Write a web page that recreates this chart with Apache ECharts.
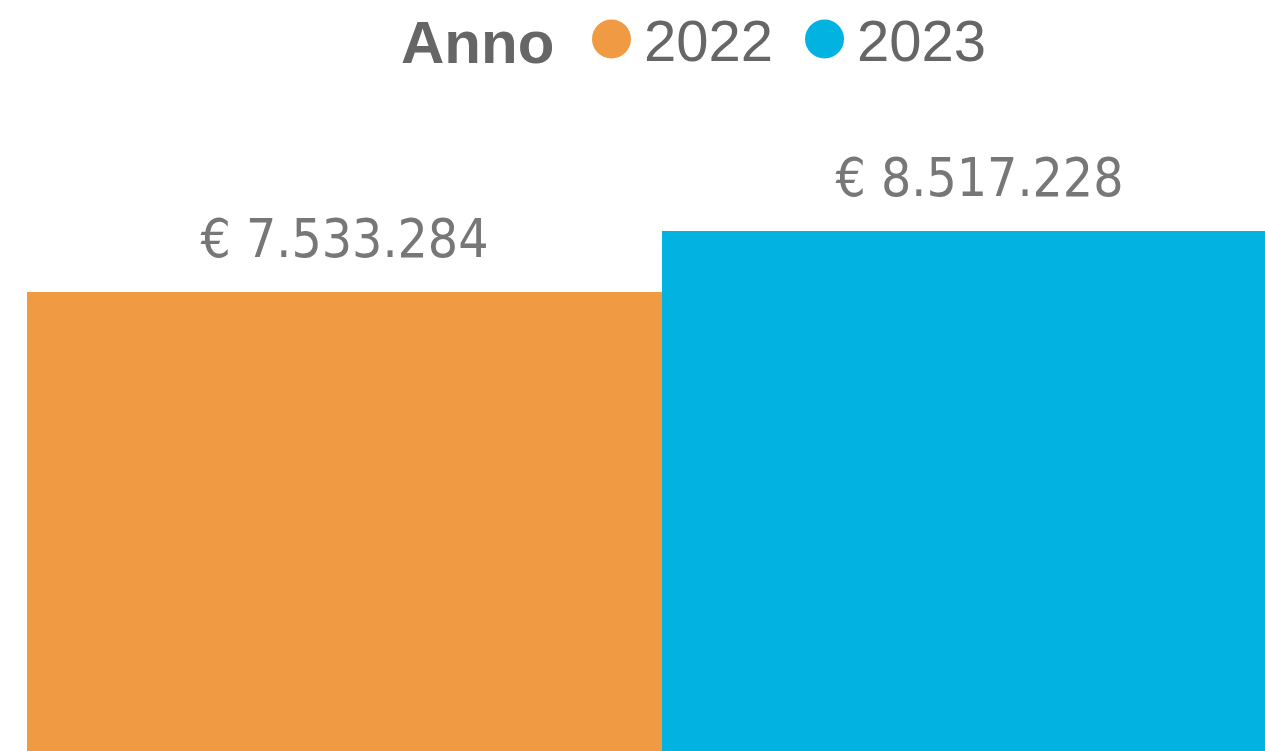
<!DOCTYPE html>
<html><head><meta charset="utf-8">
<script src="https://cdn.jsdelivr.net/npm/echarts@6/dist/echarts.min.js"></script>
<style>html,body{margin:0;padding:0;background:#fff}#c{width:1265px;height:751px}</style>
</head><body><div id="c"></div>
<script>
const categories = ['Totale'];
const years = ['2022', '2023'];
const values2022 = [7533284];
const values2023 = [8517228];
const colors = ['#F09B43', '#02B2E1'];

function fmt(v) {
  return '€ ' + String(v).replace(/\B(?=(\d{3})+(?!\d))/g, '.');
}
const labelStyle = {
  show: true, position: 'top', distance: 22,
  formatter: p => fmt(p.value),
  color: '#777777', fontFamily: 'DejaVu Sans Condensed', fontSize: 53
};
const chart = echarts.init(document.getElementById('c'), null, {renderer: 'canvas'});
chart.setOption({
  animation: false,
  title: {
    text: 'Anno', left: 396, top: 11,
    textStyle: {fontFamily: 'Liberation Sans', fontWeight: 'bold', fontSize: 60, color: '#666666'}
  },
  legend: {
    data: years, left: 587, top: 11, icon: 'circle', itemWidth: 39, itemHeight: 39, itemGap: 32,
    formatter: '{t|{name}}',
    textStyle: {
      fontFamily: 'Liberation Sans', fontSize: 58, color: '#666666',
      rich: {t: {fontFamily: 'Liberation Sans', fontSize: 58, color: '#666666', padding: [12, 0, 0, 8]}}
    }
  },
  grid: {left: 27, top: 0, width: 1270, height: 759, containLabel: false, outerBoundsMode: 'none'},
  xAxis: {type: 'category', data: categories, show: false},
  yAxis: {type: 'value', min: 0, max: 12243000, show: false},
  series: [
    {name: years[0], type: 'bar', data: values2022, itemStyle: {color: colors[0]}, barGap: '0%', barCategoryGap: '0%', label: labelStyle},
    {name: years[1], type: 'bar', data: values2023, itemStyle: {color: colors[1]}, barGap: '0%', barCategoryGap: '0%', label: labelStyle}
  ]
});
</script></body></html>
